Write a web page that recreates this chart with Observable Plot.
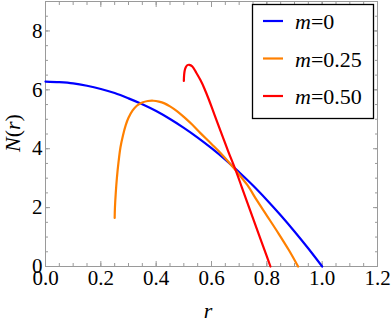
<!DOCTYPE html>
<html><head><meta charset="utf-8">
<script src="https://cdn.jsdelivr.net/npm/d3@7"></script>
<script src="https://cdn.jsdelivr.net/npm/@observablehq/plot@0.6"></script>
<style>
body{margin:0;background:#fff;}
#chart{width:392px;height:327px;}
#chart svg, #chart svg text, #chart svg tspan { font-family: "Liberation Serif", serif !important; }
</style></head><body><div id="chart"></div>
<script>
// m = 0
const rBlue = [0,0.05,0.1,0.15,0.2,0.25,0.3,0.35,0.4,0.45,0.5,0.55,0.6,0.65,0.7,0.75,0.8,0.85,0.9,0.95,1.0];
const nBlue = [6.28,6.26,6.22,6.14,6.03,5.89,5.71,5.51,5.28,5.01,4.71,4.38,4.02,3.63,3.20,2.75,2.26,1.74,1.19,0.61,0.0];
// m = 0.25
const rOrange = [0.250,0.251,0.254,0.258,0.264,0.271,0.280,0.290,0.300,0.315,0.330,0.350,0.370,0.390,0.410,0.430,0.450,0.475,0.500,0.530,0.560,0.600,0.640,0.687,0.730,0.763,0.800,0.843,0.880,0.913];
const nOrange = [1.65,2.00,2.50,3.00,3.55,4.05,4.45,4.80,5.05,5.30,5.46,5.57,5.62,5.63,5.60,5.54,5.44,5.28,5.08,4.82,4.53,4.16,3.78,3.27,2.76,2.26,1.73,1.11,0.55,0.0];
// m = 0.50
const rRed = [0.500,0.501,0.503,0.507,0.513,0.520,0.530,0.545,0.560,0.575,0.590,0.605,0.620,0.640,0.660,0.687,0.710,0.740,0.770,0.800,0.813];
const nRed = [6.30,6.50,6.65,6.77,6.84,6.85,6.80,6.58,6.33,6.03,5.68,5.30,4.92,4.42,3.92,3.28,2.68,1.90,1.12,0.34,0.0];

const seriesLabels = ["0","0.25","0.50"];
const seriesColors = ["#0000ff","#ff8000","#ff0000"];
const seriesR = [rBlue, rOrange, rRed];
const seriesN = [nBlue, nOrange, nRed];

const xMajor = [0,0.2,0.4,0.6,0.8,1.0,1.2];
const xMinor = [0,0.05,0.1,0.15,0.2,0.25,0.3,0.35,0.4,0.45,0.5,0.55,0.6,0.65,0.7,0.75,0.8,0.85,0.9,0.95,1.0,1.05,1.1,1.15,1.2];
const yMajor = [0,2,4,6,8];
const yMinor = [0,0.5,1,1.5,2,2.5,3,3.5,4,4.5,5,5.5,6,6.5,7,7.5,8,8.5,9];

const data = seriesLabels.flatMap((m, k) => seriesR[k].map((r, i) => ({r, n: seriesN[k][i], m})));

const gray = "#9a9a9a";
const serif = "Liberation Serif";
const tickOnly = (o) => ({fill: "none", stroke: gray, label: null, ...o});

const plot = Plot.plot({
  width: 392, height: 327,
  marginLeft: 45, marginRight: 15, marginTop: 1, marginBottom: 61,
  x: {domain: [0, 1.2]},
  y: {domain: [0, 9]},
  color: {domain: seriesLabels, range: seriesColors},
  style: {fontFamily: serif, fontSize: "21px", color: "black", background: "white"},
  marks: [
    Plot.frame({stroke: gray}),
    Plot.axisX(tickOnly({ticks: xMinor, tickSize: -3})),
    Plot.axisX(tickOnly({ticks: xMajor, tickSize: -5})),
    Plot.axisX(tickOnly({anchor: "top", ticks: xMinor, tickSize: -3})),
    Plot.axisX(tickOnly({anchor: "top", ticks: xMajor, tickSize: -5})),
    Plot.axisY(tickOnly({ticks: yMinor, tickSize: -3})),
    Plot.axisY(tickOnly({ticks: yMajor, tickSize: -5})),
    Plot.axisY(tickOnly({anchor: "right", ticks: yMinor, tickSize: -3})),
    Plot.axisY(tickOnly({anchor: "right", ticks: yMajor, tickSize: -5})),
    Plot.axisX({ticks: xMajor, tickSize: 0, tickPadding: 4, tickFormat: d3.format(".1f"), label: null, fill: "black"}),
    Plot.axisY({ticks: yMajor, tickSize: 0, tickPadding: 3, tickFormat: d3.format("d"), label: null, fill: "black"}),
    Plot.line(data, {x: "r", y: "n", z: "m", stroke: "m", strokeWidth: 2.2, curve: "catmull-rom"})
  ]
});
document.getElementById("chart").appendChild(plot);

const svg = d3.select(plot);
// axis labels
svg.append("text").attr("x", 208).attr("y", 318).attr("text-anchor", "middle")
  .attr("font-size", 22).attr("font-style", "italic").text("r");
const yl = svg.append("text").attr("transform", "translate(20,133) rotate(-90)").attr("text-anchor", "middle")
  .attr("font-size", 22);
yl.append("tspan").attr("font-style", "italic").text("N");
yl.append("tspan").text("(");
yl.append("tspan").attr("font-style", "italic").text("r");
yl.append("tspan").text(")");

// legend
const lg = svg.append("g");
lg.append("rect").attr("x", 252.5).attr("y", 4.5).attr("width", 121).attr("height", 114)
  .attr("fill", "white").attr("stroke", "black").attr("stroke-width", 1.3);
seriesLabels.forEach((m, k) => {
  const yy = 21 + k * 37.5;
  lg.append("line").attr("x1", 263).attr("x2", 283).attr("y1", yy).attr("y2", yy)
    .attr("stroke", seriesColors[k]).attr("stroke-width", 2.2);
  const t = lg.append("text").attr("x", 295).attr("y", yy + 8).attr("text-anchor", "start")
    .attr("font-size", 22);
  t.append("tspan").attr("font-style", "italic").text("m");
  t.append("tspan").text("=" + m);
});
</script>
</body></html>
